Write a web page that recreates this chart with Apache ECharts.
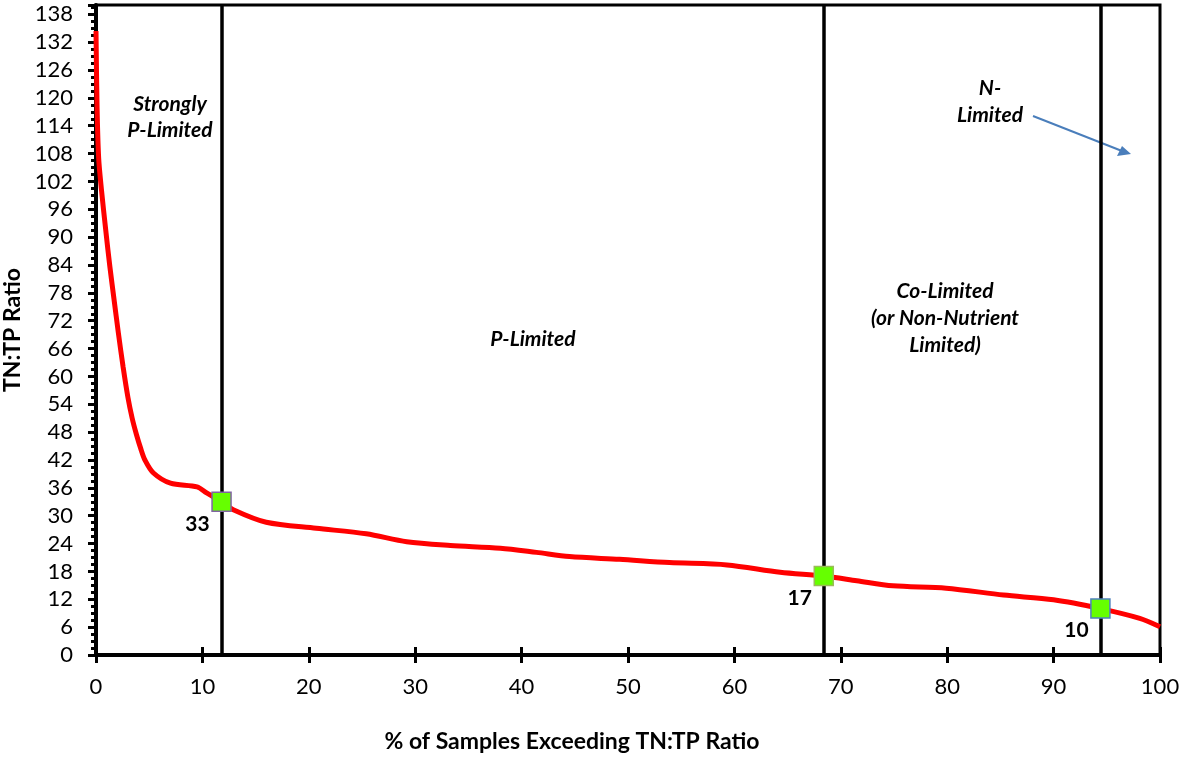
<!DOCTYPE html>
<html>
<head>
<meta charset="utf-8">
<script src="https://cdn.jsdelivr.net/npm/echarts@6/dist/echarts.min.js"></script>
<style>
html,body{margin:0;padding:0;background:#fff;}
#chart{width:1188px;height:757px;}
</style>
</head>
<body>
<div id="chart"></div>
<script>
// Curve: % of samples exceeding (x) vs TN:TP ratio (y)
const curveX = [0, 0.1, 0.25, 0.5, 0.94, 1.3, 1.7, 2.1, 2.55, 3.0, 3.4, 3.8, 4.2, 4.6, 5.4, 7.0, 9.5, 10.4, 11.8, 12.9, 16.0, 20.7, 25.4, 29.2, 33.3, 38.0, 41.4, 44.5, 49.2, 53.9, 59.3, 64.3, 68.4, 71.5, 74.9, 79.9, 85.3, 90.0, 94.4, 98.1, 100];
const curveY = [134.4, 118, 107, 100.5, 91, 83.7, 76.5, 69.4, 62, 55.5, 51, 47.5, 44.5, 42, 39.2, 37, 36.2, 34.9, 33, 31.3, 28.6, 27.3, 26.1, 24.4, 23.6, 23.0, 22.1, 21.2, 20.6, 19.9, 19.4, 17.8, 17, 16.0, 14.9, 14.4, 12.9, 11.9, 10, 7.9, 6.1];
// Threshold markers
const markerX = [11.8, 68.4, 94.4];
const markerY = [33, 17, 10];
const markerLabels = ['33', '17', '10'];
const markerBorders = ['#8064A2', '#9BBB59', '#4F81BD'];
// Vertical division lines
const dividerX = [11.8, 68.4, 94.4];
// Axis settings
const yMin = 0, yMax = 140, yStep = 6;
const xMin = 0, xMax = 100, xStep = 10;

const FONT = 'Lato, "Open Sans", sans-serif';
const chart = echarts.init(document.getElementById('chart'));

const curveData = curveX.map((x, i) => [x, curveY[i]]);
const markerData = markerX.map((x, i) => ({
  value: [x, markerY[i]],
  itemStyle: { color: '#66FF00', borderColor: markerBorders[i], borderWidth: 1.5, opacity: 1 },
  label: { formatter: markerLabels[i] }
}));

const noteStyle = { fontFamily: FONT, fontSize: 21, fontWeight: 'bold', fontStyle: 'italic', fill: '#000', textAlign: 'center', textVerticalAlign: 'middle' };

const option = {
  animation: false,
  backgroundColor: '#fff',
  grid: { left: 96, right: 28, top: 5, bottom: 102, containLabel: false, outerBoundsMode: 'none', show: true, borderColor: '#000', borderWidth: 3, backgroundColor: 'transparent' },
  xAxis: [{
    type: 'value', min: xMin, max: xMax, interval: xStep,
    axisLine: { show: true, lineStyle: { color: '#000', width: 4 } },
    axisTick: { show: true, inside: false, length: 8, lineStyle: { color: '#000', width: 3 } },
    axisLabel: { color: '#000', fontFamily: FONT, fontSize: 22, margin: 21 },
    splitLine: { show: false }
  }, {
    type: 'value', min: xMin, max: xMax, interval: xStep, position: 'bottom',
    axisLine: { show: false },
    axisTick: { show: true, inside: true, length: 8, lineStyle: { color: '#000', width: 3 } },
    axisLabel: { show: false },
    splitLine: { show: false }
  }],
  yAxis: {
    type: 'value', min: yMin, max: yMax, interval: yStep,
    name: 'TN:TP Ratio', nameLocation: 'middle', nameGap: 64, nameRotate: 90,
    nameTextStyle: { color: '#000', fontFamily: FONT, fontSize: 23, fontWeight: 'bold' },
    axisLine: { show: true, lineStyle: { color: '#000', width: 4 } },
    axisTick: { show: true, inside: false, length: 8, lineStyle: { color: '#000', width: 3 } },
    minorTick: { show: true, splitNumber: 4, length: 5, lineStyle: { color: '#000', width: 3 } },
    axisLabel: { color: '#000', fontFamily: FONT, fontSize: 22, margin: 23, formatter: v => (v > 138 ? '' : String(v)) },
    splitLine: { show: false }
  },
  graphic: [
    { type: 'text', style: Object.assign({}, noteStyle, { text: '% of Samples Exceeding TN:TP Ratio', fontStyle: 'normal', fontSize: 23 }), position: [572, 742] },
    { type: 'text', style: Object.assign({}, noteStyle, { text: 'Strongly' }), position: [170, 104] },
    { type: 'text', style: Object.assign({}, noteStyle, { text: 'P-Limited' }), position: [170, 130] },
    { type: 'text', style: Object.assign({}, noteStyle, { text: 'P-Limited' }), position: [533, 339] },
    { type: 'text', style: Object.assign({}, noteStyle, { text: 'Co-Limited' }), position: [945, 291] },
    { type: 'text', style: Object.assign({}, noteStyle, { text: '(or Non-Nutrient' }), position: [945, 318] },
    { type: 'text', style: Object.assign({}, noteStyle, { text: 'Limited)' }), position: [945, 345] },
    { type: 'text', style: Object.assign({}, noteStyle, { text: 'N-' }), position: [990, 88] },
    { type: 'text', style: Object.assign({}, noteStyle, { text: 'Limited' }), position: [990, 115] },
    { type: 'line', shape: { x1: 1033, y1: 116, x2: 1122, y2: 151 }, style: { stroke: '#4A7EBB', lineWidth: 2 } },
    { type: 'polygon', shape: { points: [[1131, 154], [1117, 156], [1122, 146]] }, style: { fill: '#4A7EBB' } }
  ],
  series: [{
    type: 'line',
    data: curveData,
    smooth: 0.3,
    showSymbol: false,
    clip: false,
    lineStyle: { color: '#FF0000', width: 5 },
    z: 3,
    markLine: {
      silent: true,
      symbol: ['none', 'none'],
      label: { show: false },
      lineStyle: { color: '#000', width: 3.5, type: 'solid' },
      data: dividerX.map(x => ({ xAxis: x }))
    }
  }, {
    type: 'scatter',
    data: markerData,
    symbol: 'rect',
    symbolSize: 19,
    z: 5,
    itemStyle: { opacity: 1 },
    label: {
      show: true, position: 'inside', offset: [-24, 22],
      color: '#000', fontFamily: FONT, fontSize: 21, fontWeight: 'bold'
    }
  }]
};
chart.setOption(option);
</script>
</body>
</html>
